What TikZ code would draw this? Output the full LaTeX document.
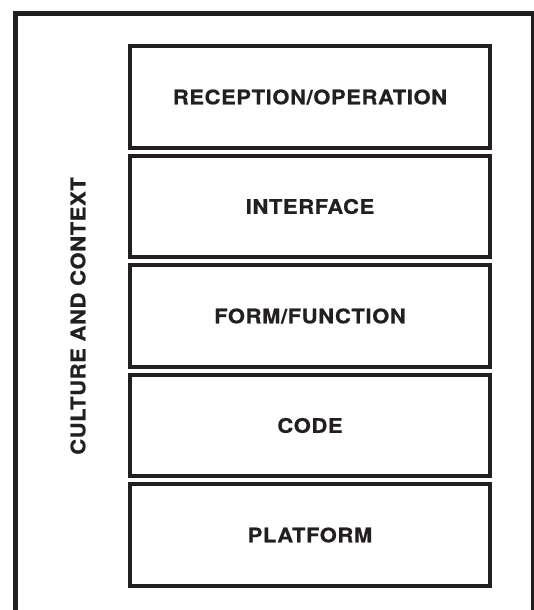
\documentclass[tikz,border=0pt]{standalone}
\usepackage{fontspec}
\setmainfont{TeX Gyre Heros}
\newfontfamily\layerfont[FakeStretch=1.1,LetterSpace=3,FakeBold=0.6]{TeX Gyre Heros}
\definecolor{ink}{HTML}{231F20}
\tikzset{
	layer/.style={draw=ink,line width=4pt,minimum width=360pt,minimum height=101.5pt,
		inner sep=0pt,font=\layerfont\bfseries\fontsize{20}{24}\selectfont,text=ink},
	frame/.style={draw=ink,line width=5pt}
}
\begin{document}
\begin{tikzpicture}[x=1pt,y=-1pt]
	\useasboundingbox (0,0) rectangle (533,610);
	\draw[frame] (15.5,13.5) rectangle (533,625);
	\node[layer] (reception) at (310,97)  {RECEPTION/OPERATION};
	\node[layer] (interface) at (310,206.5) {INTERFACE};
	\node[layer] (form)      at (310,316) {FORM/FUNCTION};
	\node[layer] (code)      at (310,425.5) {CODE};
	\node[layer] (platform)  at (310,535) {PLATFORM};
	\node[rotate=90,font=\layerfont\bfseries\fontsize{20}{24}\selectfont,text=ink] (culture) at (78,316) {CULTURE AND CONTEXT};
\end{tikzpicture}
\end{document}
